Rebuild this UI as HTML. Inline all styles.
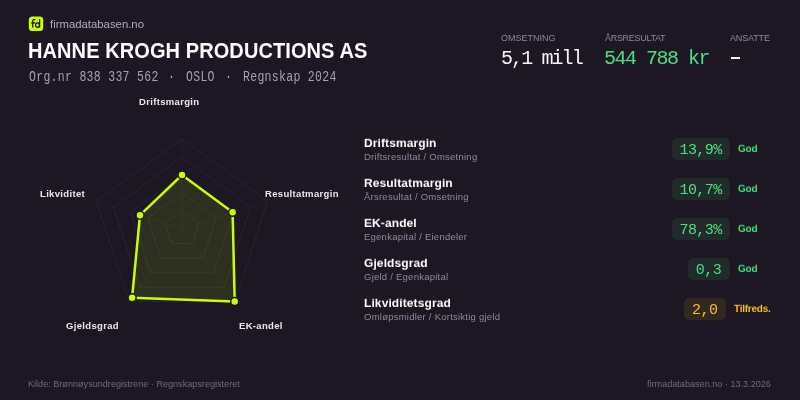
<!DOCTYPE html>
<html><head><meta charset="utf-8">
<style>
*{margin:0;padding:0;box-sizing:border-box}
html,body{width:800px;height:400px;overflow:hidden;background:#1c1723}
body{position:relative;-webkit-font-smoothing:antialiased;font-family:"Liberation Sans",sans-serif;color:#f3f1f6}
.a{position:absolute;white-space:nowrap;line-height:1;will-change:transform}
.mono{font-family:"Liberation Mono",monospace}
.site{left:50px;top:19px;font-size:11.35px;color:#b0acba}
.title{left:28.3px;top:38.6px;font-size:20px;letter-spacing:0.09px;font-weight:bold;color:#ffffff;transform:scaleY(1.134);transform-origin:0 0}
.org{left:29px;top:69.8px;font-size:11.5px;letter-spacing:0.3px;color:#a6a1ad;transform:scaleY(1.2);transform-origin:0 0}
.lbl{font-size:9px;color:#8e8898;margin-top:0.7px}
.val{font-size:20px;letter-spacing:-1.7px}
.rl{font-size:9.5px;letter-spacing:0.33px;font-weight:bold;color:#ebe8f0;transform:scaleY(1.04);transform-origin:0 8.04px}
.rn{font-size:12px;letter-spacing:0.1px;font-weight:bold;color:#ffffff;transform:scaleY(0.92);transform-origin:0 10.16px}
.rs{font-size:9.5px;letter-spacing:0.24px;color:#8e8a9b}
.box{height:22px;border-radius:5px;font-size:15px;letter-spacing:-0.55px;line-height:25px;text-align:center;text-indent:-0.55px}
.g{background:#202b2a;color:#4ade80}
.y{background:#322822;color:#fbbf24}
.st{font-size:10px;letter-spacing:-0.25px;font-weight:bold;transform:scaleY(0.92);transform-origin:0 8.46px}
.ft{font-size:9.1px;color:#6f6a7a}
</style></head><body>
<svg class="a" style="left:0;top:0" width="50" height="40" viewBox="0 0 50 40"><rect x="28.8" y="16.6" width="14.4" height="14.4" rx="3.6" fill="#c8ff00"/><g fill="none" stroke="#15131a" stroke-width="1.25"><path d="M35.4,19.9 C34.6,19.4 32.8,19.3 32.7,21 L32.7,27.5"/><path d="M31.2,22.9 L35.2,22.9"/><ellipse cx="37.5" cy="25.1" rx="1.9" ry="2.2"/><path d="M39.6,19.2 L39.6,27.5"/></g></svg>
<div class="a site">firmadatabasen.no</div>
<div class="a title">HANNE KROGH PRODUCTIONS AS</div>
<div class="a org mono" style="left:29px">Org.nr 838 337 562</div>
<div class="a org mono" style="left:167.5px">·</div>
<div class="a org mono" style="left:186px">OSLO</div>
<div class="a org mono" style="left:224.5px">·</div>
<div class="a org mono" style="left:243px">Regnskap 2024</div>

<div class="a lbl" style="left:501px;top:33px">OMSETNING</div>
<div class="a lbl" style="left:605px;top:33px;letter-spacing:-0.3px">ÅRSRESULTAT</div>
<div class="a lbl" style="left:730px;top:33px;letter-spacing:-0.15px">ANSATTE</div>
<div class="a val mono" style="left:501px;top:48.5px;letter-spacing:-1.9px;color:#f6f4f8">5,1 mill</div>
<div class="a val mono" style="left:604px;top:48.5px;letter-spacing:-1.5px;color:#4ade80">544 788 kr</div>
<div class="a" style="left:731px;top:57px;width:9px;height:2px;background:#f6f4f8"></div>

<svg class="a" style="left:0;top:0" width="800" height="400" viewBox="0 0 800 400">
<g fill="none" stroke="#29252f" stroke-width="1">
<polygon points="182,139 267.6,201.2 234.9,301.8 129.1,301.8 96.4,201.2"/>
<polygon points="182,157 250.5,207.2 224.3,287.2 139.7,287.2 113.5,207.2"/>
<polygon points="182,175 233.4,212.3 213.7,272.7 150.3,272.7 130.6,212.3"/>
<polygon points="182,193 216.2,217.9 203.2,258.1 160.8,258.1 147.8,217.9"/>
<polygon points="182,211 199.1,223.4 192.6,243.6 171.4,243.6 164.9,223.4"/>
</g>
<g stroke="#241f2a" stroke-width="1">
<line x1="182" y1="229" x2="182" y2="139"/>
<line x1="182" y1="229" x2="267.6" y2="201.2"/>
<line x1="182" y1="229" x2="234.9" y2="301.8"/>
<line x1="182" y1="229" x2="129.1" y2="301.8"/>
<line x1="182" y1="229" x2="96.4" y2="201.2"/>
</g>
<polygon points="182,175 232.6,212.3 234.7,301.6 132.1,297.7 140,215.2" fill="rgba(200,255,0,0.11)" stroke="#c8ff00" stroke-width="2.5" stroke-linejoin="round"/>
<g fill="#c8ff00" stroke="#1c1723" stroke-width="1.5">
<circle cx="182" cy="175" r="4"/>
<circle cx="232.6" cy="212.3" r="4"/>
<circle cx="234.7" cy="301.6" r="4"/>
<circle cx="132.1" cy="297.7" r="4"/>
<circle cx="140" cy="215.2" r="4"/>
</g>
</svg>
<div class="a rl" style="left:138.5px;top:97px">Driftsmargin</div>
<div class="a rl" style="left:264.5px;top:188.8px">Resultatmargin</div>
<div class="a rl" style="left:238.5px;top:320.8px">EK-andel</div>
<div class="a rl" style="left:66px;top:320.8px">Gjeldsgrad</div>
<div class="a rl" style="left:40px;top:188.7px">Likviditet</div>

<div class="a rn" style="left:364px;top:137px">Driftsmargin</div>
<div class="a rs" style="left:364px;top:152px">Driftsresultat / Omsetning</div>
<div class="a rn" style="left:364px;top:177px">Resultatmargin</div>
<div class="a rs" style="left:364px;top:192px">Årsresultat / Omsetning</div>
<div class="a rn" style="left:364px;top:217px">EK-andel</div>
<div class="a rs" style="left:364px;top:232px">Egenkapital / Eiendeler</div>
<div class="a rn" style="left:364px;top:257px">Gjeldsgrad</div>
<div class="a rs" style="left:364px;top:272px">Gjeld / Egenkapital</div>
<div class="a rn" style="left:364px;top:297px">Likviditetsgrad</div>
<div class="a rs" style="left:364px;top:312px">Omløpsmidler / Kortsiktig gjeld</div>

<div class="a box mono g" style="left:672.2px;width:57.7px;top:138px">13,9%</div>
<div class="a box mono g" style="left:672.2px;width:57.7px;top:178px">10,7%</div>
<div class="a box mono g" style="left:672.2px;width:57.7px;top:218px">78,3%</div>
<div class="a box mono g" style="left:688px;width:41.6px;top:258px">0,3</div>
<div class="a box mono y" style="left:684px;width:42px;top:298px">2,0</div>
<div class="a st" style="left:738px;top:143.5px;color:#4ade80">God</div>
<div class="a st" style="left:738px;top:183.5px;color:#4ade80">God</div>
<div class="a st" style="left:738px;top:223.5px;color:#4ade80">God</div>
<div class="a st" style="left:738px;top:263.5px;color:#4ade80">God</div>
<div class="a st" style="left:734px;top:303.5px;color:#fbbf24">Tilfreds.</div>

<div class="a ft" style="left:28px;top:380px">Kilde: Brønnøysundregistrene · Regnskapsregisteret</div>
<div class="a ft" style="right:29px;top:380px">firmadatabasen.no · 13.3.2026</div>
</body></html>
